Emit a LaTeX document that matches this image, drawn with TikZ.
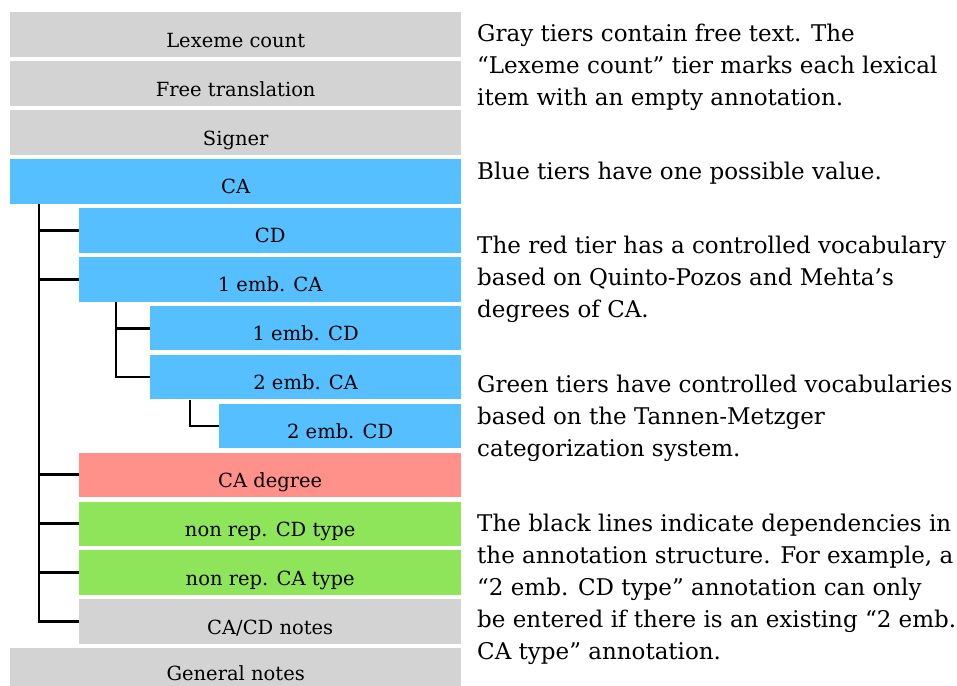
\documentclass[tikz,border=0pt]{standalone}
\usepackage{fontspec}
\setmainfont{DejaVu Serif}
\usetikzlibrary{positioning}

\definecolor{graytier}{HTML}{D3D3D3}
\definecolor{bluetier}{HTML}{55BFFF}
\definecolor{redtier}{HTML}{FF918A}
\definecolor{greentier}{HTML}{8EE55A}

\tikzset{
    tier/.style={anchor=north west, inner sep=0pt, minimum height=44.5pt,
        text height=25pt, text depth=0pt, font=\fontsize{19.5}{22}\selectfont},
    link/.style={line width=2.8pt, black},
    note/.style={anchor=north west, inner sep=0pt, align=left,
        font=\fontsize{23}{32}\selectfont}
}

\begin{document}
\begin{tikzpicture}[x=1pt, y=-1pt]
    \useasboundingbox (0,0) rectangle (957,685);
    % tiers
    \node[tier, fill=graytier, minimum width=451pt] (lexeme) at (10,12.3) {Lexeme count};
    \node[tier, fill=graytier, minimum width=451pt] (transl) at (10,61.2) {Free translation};
    \node[tier, fill=graytier, minimum width=451pt] (signer) at (10,110.1) {Signer};
    \node[tier, fill=bluetier, minimum width=451pt] (ca) at (10,159.0) {CA};
    \node[tier, fill=bluetier, minimum width=382pt] (cd) at (79,207.9) {CD};
    \node[tier, fill=bluetier, minimum width=382pt] (embca) at (79,256.8) {1 emb. CA};
    \node[tier, fill=bluetier, minimum width=311pt] (embcd) at (150,305.7) {1 emb. CD};
    \node[tier, fill=bluetier, minimum width=311pt] (embbca) at (150,354.6) {2 emb. CA};
    \node[tier, fill=bluetier, minimum width=242pt] (embbcd) at (219,403.5) {2 emb. CD};
    \node[tier, fill=redtier, minimum width=382pt] (degree) at (79,452.4) {CA degree};
    \node[tier, fill=greentier, minimum width=382pt] (cdtype) at (79,501.3) {non rep. CD type};
    \node[tier, fill=greentier, minimum width=382pt] (catype) at (79,550.2) {non rep. CA type};
    \node[tier, fill=graytier, minimum width=382pt] (cacdnotes) at (79,599.1) {CA/CD notes};
    \node[tier, fill=graytier, minimum width=451pt, text height=20pt] (general) at (10,648.0) {General notes};

    % dependency lines
    \coordinate (trunk) at ([xshift=29pt]ca.south west);
    \draw[link] (trunk) |- (cacdnotes.west);
    \foreach \n in {cd, embca, degree, cdtype, catype}
        \draw[link] (trunk |- \n.west) -- (\n.west);
    \coordinate (branch) at ([xshift=37pt]embca.south west);
    \draw[link] (branch) |- (embbca.west);
    \draw[link] (branch |- embcd.west) -- (embcd.west);
    \coordinate (twig) at ([xshift=40pt]embbca.south west);
    \draw[link] (twig) |- (embbcd.west);

    % explanations
    \node[note] (graynote) at (477,23.5) {Gray tiers contain free text. The\\
        “Lexeme count” tier marks each lexical\\item with an empty annotation.};
    \node[note] (bluenote) at (477,162) {Blue tiers have one possible value.};
    \node[note] (rednote) at (477,236) {The red tier has a controlled vocabulary\\
        based on Quinto-Pozos and Mehta’s\\degrees of CA.};
    \node[note] (greennote) at (477,375) {Green tiers have controlled vocabularies\\
        based on the Tannen-Metzger\\categorization system.};
    \node[note] (linenote) at (477,514) {The black lines indicate dependencies in\\
        the annotation structure. For example, a\\“2 emb. CD type” annotation can only\\
        be entered if there is an existing “2 emb.\\CA type” annotation.};
\end{tikzpicture}
\end{document}
